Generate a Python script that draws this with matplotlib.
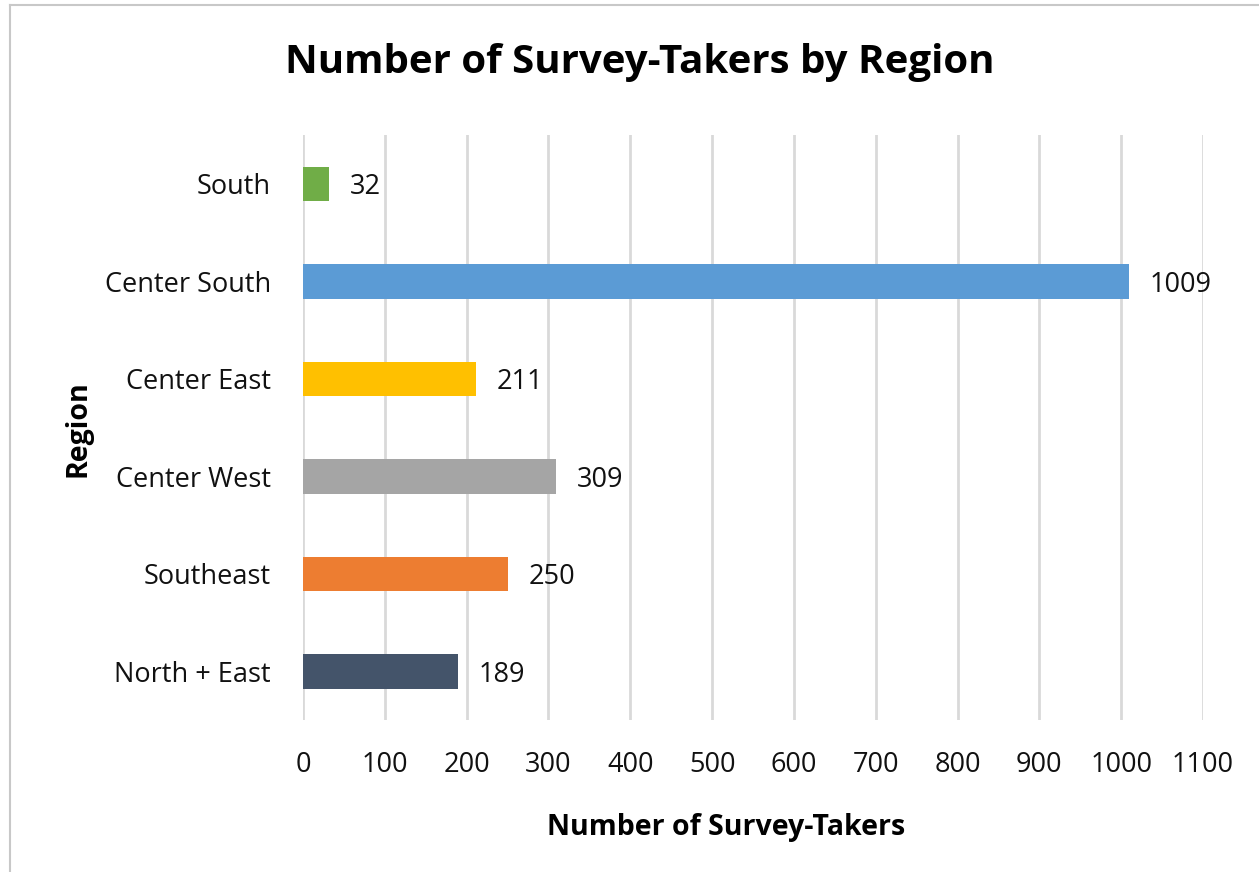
import matplotlib.pyplot as plt
from matplotlib.lines import Line2D

regions = ["North + East", "Southeast", "Center West", "Center East", "Center South", "South"]
counts = [189, 250, 309, 211, 1009, 32]
colors = ["#44546A", "#ED7D31", "#A5A5A5", "#FFC000", "#5B9BD5", "#70AD47"]
xticks = list(range(0, 1101, 100))

plt.rcParams['font.family'] = ['Open Sans', 'DejaVu Sans']

fig = plt.figure(figsize=(12.59, 8.72), dpi=100)
ax = fig.add_axes([0.2407, 0.174, 0.7148, 0.671])

ax.barh(range(len(regions)), counts, height=0.35, color=colors, zorder=3)
for i, v in enumerate(counts):
    ax.annotate(str(v), (v, i), xytext=(15, 0), textcoords='offset points',
                ha='left', va='center_baseline', fontsize=19.5, color='#111111')

ax.set_xlim(0, 1100)
ax.set_ylim(-0.5, len(regions) - 0.5)
ax.set_xticks(xticks)
ax.set_yticks(range(len(regions)))
ax.set_yticklabels(regions)
ax.tick_params(axis='both', length=0, labelsize=19.5, colors='#111111')
ax.tick_params(axis='x', pad=22)
ax.tick_params(axis='y', pad=23)
ax.grid(axis='x', color='#D9D9D9', linewidth=2, zorder=0)
for s in ax.spines.values():
    s.set_visible(False)

fig.text(0.5767, 0.0505, "Number of Survey-Takers", ha='center', va='center',
         fontsize=20.5, fontweight='bold')
fig.text(0.062, 0.509, "Region", ha='center', va='center', rotation=90,
         fontsize=20.5, fontweight='bold')
fig.text(0.508, 0.928, "Number of Survey-Takers by Region", ha='center', va='center',
         fontsize=29, fontweight='bold')

fig.add_artist(Line2D([0.008, 0.008], [0, 0.994], transform=fig.transFigure, color='#C8C8C8', lw=1.5))
fig.add_artist(Line2D([0.008, 1.0], [0.994, 0.994], transform=fig.transFigure, color='#C8C8C8', lw=1.5))

fig.savefig("out.png", dpi=100)
